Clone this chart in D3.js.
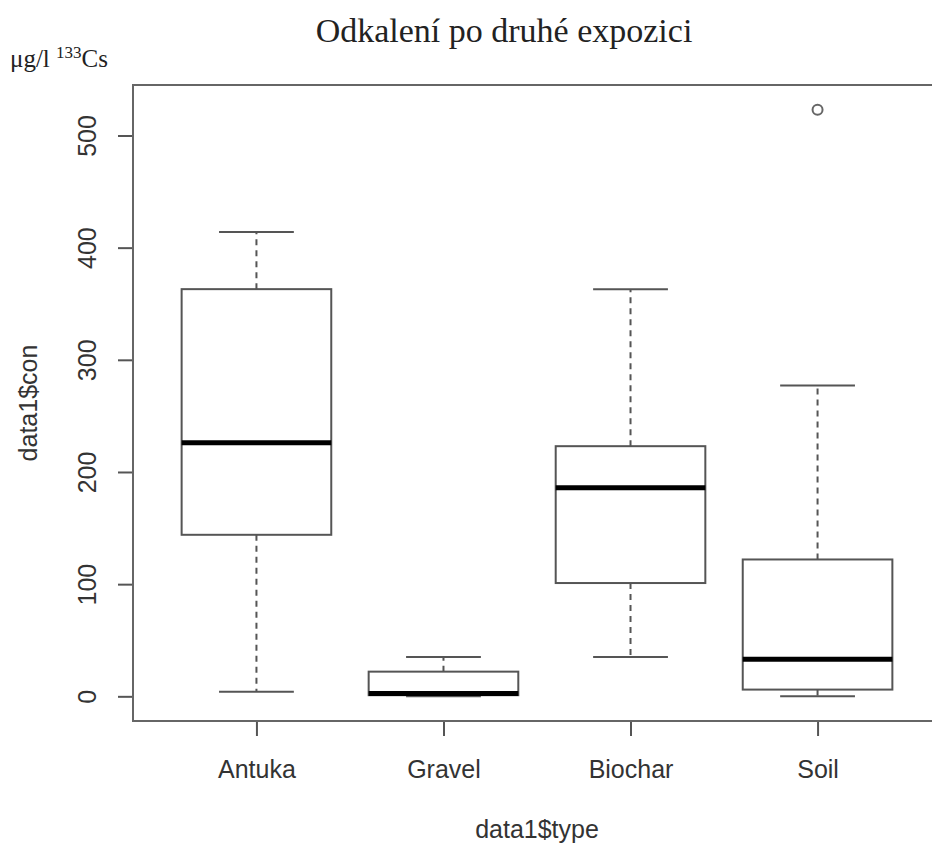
<!DOCTYPE html>
<meta charset="utf-8">
<style>
    html, body {
        margin: 0;
        background: #fff;
        overflow: hidden;
    }

    svg {
        display: block;
    }

    .axis text {
        font-family: "Liberation Sans", Arial, sans-serif;
        font-size: 25px;
        fill: #333;
    }

    .axis line {
        stroke: #555;
        stroke-width: 2px;
    }

    .box {
        fill: none;
        stroke: #555;
        stroke-width: 2px;
    }

    .whisker {
        stroke: #555;
        stroke-width: 2px;
        stroke-dasharray: 6, 5;
    }

    .staple {
        stroke: #555;
        stroke-width: 2px;
    }

    .median {
        stroke: #000;
        stroke-width: 5px;
    }
</style>

<body>
<div id="chart"></div>
<script src="https://d3js.org/d3.v7.min.js"></script>
<script>
    // values
    var categories = ["Antuka", "Gravel", "Biochar", "Soil"];
    var lowerWhisker = [4, 0, 35, 0];
    var q1 = [144, 1, 101, 6];
    var medians = [226, 2.5, 186, 33];
    var q3 = [363, 22, 223, 122];
    var upperWhisker = [414, 35, 363, 277];
    var outliers = [[], [], [], [523]];
    var yTicks = [0, 100, 200, 300, 400, 500];

    var width = 932,
        height = 845;

    var svg = d3.select("#chart").append("svg")
        .attr("width", width)
        .attr("height", height);

    // R style: groups at 1..n, 4% padding beyond 0.5..n+0.5
    var x = d3.scaleLinear()
        .domain([0.34, categories.length + 0.66])
        .range([133, 941]);

    var y = d3.scaleLinear()
        .domain([-22, 545])
        .range([721, 85]);

    var step = x(2) - x(1),
        boxW = step * 0.8,
        capW = boxW * 0.5;

    var groups = categories.map(function (c, i) {
        return {
            name: c,
            pos: i + 1,
            lo: lowerWhisker[i],
            q1: q1[i],
            med: medians[i],
            q3: q3[i],
            hi: upperWhisker[i],
            out: outliers[i]
        };
    });

    // title and the added unit label
    svg.append("text")
        .attr("x", 504)
        .attr("y", 42)
        .attr("text-anchor", "middle")
        .style("font-family", "'Liberation Serif', 'Times New Roman', serif")
        .style("font-size", "34px")
        .style("fill", "#222")
        .text("Odkalení po druhé expozici");

    var unit = svg.append("text")
        .attr("x", 10)
        .attr("y", 67)
        .style("font-family", "'Liberation Serif', 'Times New Roman', serif")
        .style("font-size", "25px")
        .style("fill", "#222");
    unit.append("tspan").text("μg/l ");
    unit.append("tspan").attr("dy", -9).style("font-size", "17px").text("133");
    unit.append("tspan").attr("dy", 9).text("Cs");

    // boxes
    var g = svg.selectAll(".grp")
        .data(groups)
        .enter().append("g")
        .attr("class", "grp");

    g.append("line")
        .attr("class", "whisker")
        .attr("x1", function (d) { return x(d.pos); })
        .attr("x2", function (d) { return x(d.pos); })
        .attr("y1", function (d) { return y(d.q3); })
        .attr("y2", function (d) { return y(d.hi); });

    g.append("line")
        .attr("class", "whisker")
        .attr("x1", function (d) { return x(d.pos); })
        .attr("x2", function (d) { return x(d.pos); })
        .attr("y1", function (d) { return y(d.q1); })
        .attr("y2", function (d) { return y(d.lo); });

    g.append("line")
        .attr("class", "staple")
        .attr("x1", function (d) { return x(d.pos) - capW / 2; })
        .attr("x2", function (d) { return x(d.pos) + capW / 2; })
        .attr("y1", function (d) { return y(d.hi); })
        .attr("y2", function (d) { return y(d.hi); });

    g.append("line")
        .attr("class", "staple")
        .attr("x1", function (d) { return x(d.pos) - capW / 2; })
        .attr("x2", function (d) { return x(d.pos) + capW / 2; })
        .attr("y1", function (d) { return y(d.lo); })
        .attr("y2", function (d) { return y(d.lo); });

    g.append("rect")
        .attr("class", "box")
        .attr("x", function (d) { return x(d.pos) - boxW / 2; })
        .attr("width", boxW)
        .attr("y", function (d) { return y(d.q3); })
        .attr("height", function (d) { return y(d.q1) - y(d.q3); });

    g.append("line")
        .attr("class", "median")
        .attr("x1", function (d) { return x(d.pos) - boxW / 2; })
        .attr("x2", function (d) { return x(d.pos) + boxW / 2; })
        .attr("y1", function (d) { return y(d.med); })
        .attr("y2", function (d) { return y(d.med); });

    g.selectAll(".outlier")
        .data(function (d) {
            return d.out.map(function (v) { return { pos: d.pos, v: v }; });
        })
        .enter().append("circle")
        .attr("class", "outlier")
        .attr("cx", function (d) { return x(d.pos); })
        .attr("cy", function (d) { return y(d.v); })
        .attr("r", 5)
        .style("fill", "none")
        .style("stroke", "#666")
        .style("stroke-width", 2);

    // axes
    var yAxis = svg.append("g")
        .attr("class", "axis")
        .attr("transform", "translate(" + x.range()[0] + ",0)")
        .call(d3.axisLeft(y).tickValues(yTicks).tickSize(15));
    yAxis.select(".domain").remove();
    yAxis.selectAll("text")
        .attr("x", null)
        .attr("dy", null)
        .attr("y", -37)
        .attr("transform", "rotate(-90)")
        .attr("text-anchor", "middle");

    var xAxis = svg.append("g")
        .attr("class", "axis")
        .attr("transform", "translate(0," + y.range()[0] + ")")
        .call(d3.axisBottom(x)
            .tickValues(groups.map(function (d) { return d.pos; }))
            .tickFormat(function (p) { return categories[p - 1]; })
            .tickSize(15));
    xAxis.select(".domain").remove();
    xAxis.selectAll("text")
        .attr("dy", null)
        .attr("y", 57);

    // plot frame (right side falls outside the picture, as in the original)
    svg.append("rect")
        .attr("x", x.range()[0])
        .attr("y", y.range()[1])
        .attr("width", x.range()[1] - x.range()[0])
        .attr("height", y.range()[0] - y.range()[1])
        .style("fill", "none")
        .style("stroke", "#666")
        .style("stroke-width", 2);

    // axis titles
    svg.append("text")
        .attr("x", (x.range()[0] + x.range()[1]) / 2)
        .attr("y", 838)
        .attr("text-anchor", "middle")
        .style("font-family", "'Liberation Sans', Arial, sans-serif")
        .style("font-size", "25px")
        .style("fill", "#333")
        .text("data1$type");

    svg.append("text")
        .attr("transform", "translate(37," + (y.range()[0] + y.range()[1]) / 2 + ") rotate(-90)")
        .attr("text-anchor", "middle")
        .style("font-family", "'Liberation Sans', Arial, sans-serif")
        .style("font-size", "25px")
        .style("fill", "#333")
        .text("data1$con");
</script>
</body>
